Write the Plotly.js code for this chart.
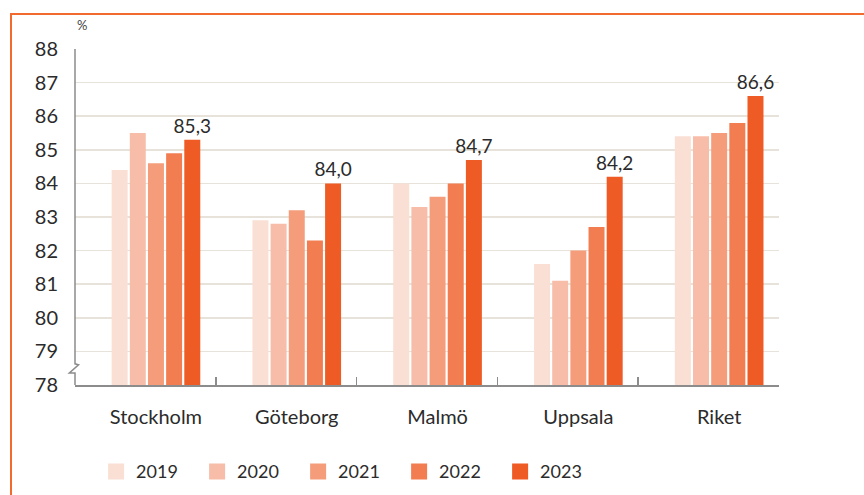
<!DOCTYPE html>
<html><head><meta charset="utf-8">
<script src="https://cdn.plot.ly/plotly-3.0.1.min.js"></script>
<style>
html,body{margin:0;padding:0;background:#fff;}
#wrap{position:relative;width:864px;height:495px;overflow:hidden;}
#chart{position:absolute;left:0;top:0;width:864px;height:495px;}
#frame{position:absolute;left:10px;top:13px;width:900px;height:600px;border-left:2px solid #f26a2e;border-top:2px solid #f26a2e;pointer-events:none;}
</style></head>
<body><div id="wrap"><div id="chart"></div><div id="frame"></div></div>
<script>
const categories = ["Stockholm","Göteborg","Malmö","Uppsala","Riket"];
const years = ["2019","2020","2021","2022","2023"];
const v2019 = [84.4, 82.9, 84.0, 81.6, 85.4];
const v2020 = [85.5, 82.8, 83.3, 81.1, 85.4];
const v2021 = [84.6, 83.2, 83.6, 82.0, 85.5];
const v2022 = [84.9, 82.3, 84.0, 82.7, 85.8];
const v2023 = [85.3, 84.0, 84.7, 84.2, 86.6];
const yTicks = [78,79,80,81,82,83,84,85,86,87,88];
const colors = ["#fadfd4","#f8bda8","#f59d7b","#f27d50","#ef5b25"];

const series = [v2019, v2020, v2021, v2022, v2023];
const shift = 0.075;
const xPos = categories.map((c,i)=>i+shift);
const bounds = categories.map((c,i)=>i+0.5);

const font = "Lato, 'Open Sans', sans-serif";
const traces = series.map((vals, k) => {
  const t = {
    type:'bar', name: years[k], x: xPos, y: vals,
    marker:{color: colors[k], line:{width:0}},
    hoverinfo:'skip', showlegend:false
  };
  if (k === series.length-1) {
    t.texttemplate = '%{y:.1f}';
    t.textposition = 'outside';
    t.constraintext = 'none';
    t.cliponaxis = false;
    t.textfont = {family: font, size: 19, color:'#2b2b2b'};
  }
  return t;
});
// legend entries (larger square symbols)
years.forEach((yr,k) => {
  traces.push({type:'scatter', mode:'markers', name: yr, x:[null], y:[null],
    marker:{symbol:'square', size:22, color: colors[k], line:{width:0}}, hoverinfo:'skip'});
});
// helper trace for boundary ticks on overlay axis
traces.push({type:'scatter', x:[-0.5,4.5], y:[78,78], xaxis:'x2', mode:'none', showlegend:false, hoverinfo:'skip'});

const layout = {
  width:864, height:495,
  margin:{l:75, r:85, t:49, b:110, autoexpand:false},
  paper_bgcolor:'#fff', plot_bgcolor:'#fff',
  separators: ', ',
  barmode:'group', bargap:0.355, bargroupgap:0.12,
  font:{family: font, color:'#2b2b2b'},
  xaxis:{
    range:[-0.5,4.5], tickvals:xPos, ticktext:categories,
    showgrid:false, zeroline:false, showline:true, linecolor:'#8c8c8c', linewidth:1.5,
    ticks:'outside', ticklen:13, tickcolor:'rgba(0,0,0,0)',
    tickfont:{size:20, color:'#2b2b2b', family: font}
  },
  xaxis2:{
    range:[-0.5,4.5], overlaying:'x', anchor:'y', side:'bottom',
    tickvals:bounds, ticks:'inside', ticklen:8, tickwidth:1.5, tickcolor:'#8c8c8c',
    showticklabels:false, showgrid:false, zeroline:false, showline:false
  },
  yaxis:{
    range:[78,88], tickvals:yTicks, ticktext:yTicks.map(String),
    showgrid:true, gridcolor:'#e7e3da', gridwidth:1.5,
    zeroline:false, showline:false,
    ticks:'outside', ticklen:12, tickcolor:'rgba(0,0,0,0)',
    tickfont:{size:20, color:'#2b2b2b', family: font}
  },
  showlegend:true,
  legend:{orientation:'h', x:0.03, xanchor:'left', y:-0.258, yanchor:'middle',
    font:{size:18, color:'#2b2b2b', family: font}, entrywidth:56, traceorder:'normal', itemclick:false},
  annotations:[{text:'%', xref:'paper', yref:'paper', x:0, y:1.072, xanchor:'left', yanchor:'middle', showarrow:false, font:{size:13, color:'#444', family: font}}],
  shapes:[
    {type:'path', xref:'paper', yref:'y',
     path:'M0,88 V78.63 L0.005,78.6 L-0.008,78.36 H0 V78',
     line:{color:'#8c8c8c', width:1.5}, layer:'above'}
  ]
};
Plotly.newPlot('chart', traces, layout, {staticPlot:true, displayModeBar:false});
</script></body></html>
